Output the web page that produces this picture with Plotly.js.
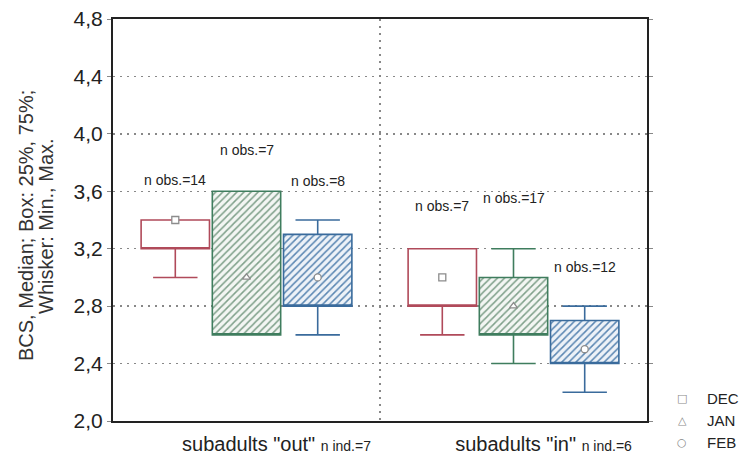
<!DOCTYPE html>
<html>
<head>
<meta charset="utf-8">
<script src="https://cdn.plot.ly/plotly-3.0.1.min.js"></script>
<style>
  html, body { margin: 0; padding: 0; background: #fff; }
  #chart { width: 744px; height: 463px; }
</style>
</head>
<body>
<div id="chart"></div>
<script>
// groups on the x axis
const groups = ['subadults "out"', 'subadults "in"'];
const nInd = [7, 6];
const months = ['DEC', 'JAN', 'FEB'];

// box stats per month, one value per group
const minVals = { DEC: [3.0, 2.6], JAN: [2.6, 2.4], FEB: [2.6, 2.2] };
const q1Vals = { DEC: [3.2, 2.8], JAN: [2.6, 2.6], FEB: [2.8, 2.4] };
const medVals = { DEC: [3.4, 3.0], JAN: [3.0, 2.8], FEB: [3.0, 2.5] };
const q3Vals = { DEC: [3.4, 3.2], JAN: [3.6, 3.0], FEB: [3.3, 2.7] };
const maxVals = { DEC: [3.4, 3.2], JAN: [3.6, 3.2], FEB: [3.4, 2.8] };

// n obs per month, one value per group
const nObs = { DEC: [14, 7], JAN: [7, 17], FEB: [8, 12] };
// height of the "n obs" labels (y units)
const nObsLabelY = { DEC: [3.68, 3.50], JAN: [3.89, 3.55], FEB: [3.67, 3.07] };

const yTitleLines = ['BCS, Median; Box: 25%, 75%;', 'Whisker: Min., Max.'];

// styles
const lineColors = { DEC: '#b04a5a', JAN: '#3f7d5e', FEB: '#3a6b9c' };
const hatch = {
    DEC: null,
    JAN: { fg: '#7fa08a', bg: '#f3f6f3' },
    FEB: { fg: '#5a86b2', bg: '#edf2f8' }
};
const symbols = { DEC: 'square', JAN: 'triangle-up', FEB: 'circle' };
const legendGlyphs = { DEC: '\u25A1', JAN: '\u25B3', FEB: '\u25CB' };
const font = 'Liberation Sans, Arial, sans-serif';

const boxGap = 0.2;
const boxGroupGap = 0.04;

const traces = [];

// hatched fills (bars from q1 to q3), drawn under the box outlines
months.forEach(function(m) {
    const h = hatch[m];
    traces.push({
        type: 'bar',
        x: groups,
        base: q1Vals[m],
        y: q3Vals[m].map((v, i) => v - q1Vals[m][i]),
        marker: h ? {
            color: h.bg,
            line: { width: 0 },
            pattern: { shape: '/', fgcolor: h.fg, bgcolor: h.bg, size: 5, solidity: 0.3 }
        } : { color: '#ffffff', line: { width: 0 } },
        showlegend: false,
        hoverinfo: 'skip'
    });
});

// box outlines + whiskers; median line hidden on the lower edge, median shown as marker
months.forEach(function(m) {
    traces.push({
        type: 'box',
        x: groups,
        q1: q1Vals[m],
        median: q1Vals[m],
        q3: q3Vals[m],
        lowerfence: minVals[m],
        upperfence: maxVals[m],
        fillcolor: 'rgba(0,0,0,0)',
        line: { color: lineColors[m], width: 1.6 },
        whiskerwidth: 0.65,
        boxpoints: false,
        showlegend: false,
        hoverinfo: 'skip'
    });
});

// median markers
months.forEach(function(m) {
    traces.push({
        type: 'scatter',
        mode: 'markers',
        x: groups,
        y: medVals[m],
        name: m,
        marker: {
            symbol: symbols[m],
            size: 7,
            color: '#ffffff',
            line: { color: '#8c8c8c', width: 1.3 }
        },
        showlegend: false,
        hoverinfo: 'skip'
    });
});

// "n obs" labels over each box
const slot = (1 - boxGap) / months.length;
const annotations = [];
months.forEach(function(m, ti) {
    groups.forEach(function(g, gi) {
        annotations.push({
            x: gi + (ti - 1) * slot,
            y: nObsLabelY[m][gi],
            xref: 'x', yref: 'y',
            text: 'n obs.=' + nObs[m][gi],
            showarrow: false,
            font: { family: font, size: 14, color: '#222' }
        });
    });
});

// y axis title, two tightly spaced rotated lines
yTitleLines.forEach(function(t, i) {
    annotations.push({
        x: 0, y: 0.5,
        xref: 'paper', yref: 'paper',
        xanchor: 'center', yanchor: 'middle',
        xshift: -87 + i * 20,
        yshift: -6,
        textangle: -90,
        text: t,
        showarrow: false,
        font: { family: font, size: 20, color: '#333' }
    });
});

// legend in the lower right corner, outside the frame
months.forEach(function(m, i) {
    annotations.push({
        x: 1, y: 0, xref: 'paper', yref: 'paper',
        xanchor: 'center', yanchor: 'middle',
        xshift: 35, yshift: 23 - i * 22,
        text: legendGlyphs[m],
        showarrow: false,
        font: { family: 'DejaVu Sans, sans-serif', size: 11, color: '#888' }
    });
    annotations.push({
        x: 1, y: 0, xref: 'paper', yref: 'paper',
        xanchor: 'left', yanchor: 'middle',
        xshift: 58, yshift: 23 - i * 22,
        text: m,
        showarrow: false,
        font: { family: font, size: 15, color: '#222' }
    });
});

const layout = {
    width: 744,
    height: 463,
    margin: { l: 113, r: 97, t: 19, b: 42 },
    paper_bgcolor: '#ffffff',
    plot_bgcolor: '#ffffff',
    separators: ',.',
    font: { family: font, color: '#222' },
    boxmode: 'group',
    boxgap: boxGap,
    boxgroupgap: boxGroupGap,
    barmode: 'group',
    bargap: boxGap,
    bargroupgap: boxGroupGap,
    scattermode: 'group',
    scattergap: boxGap,
    showlegend: false,
    xaxis: {
        type: 'category',
        range: [-0.5, 1.5],
        automargin: false,
        tickmode: 'array',
        tickvals: groups,
        ticktext: groups.map((g, i) => g + ' <span style="font-size:14px">n ind.=' + nInd[i] + '</span>'),
        tickson: 'boundaries',
        ticks: '',
        tickfont: { family: font, size: 20, color: '#222' },
        ticklabelshift: 30,
        ticklabelstandoff: 4,
        showgrid: true,
        gridcolor: '#888',
        gridwidth: 1.5,
        griddash: '2px,5px',
        showline: true,
        mirror: true,
        linecolor: '#222',
        linewidth: 2,
        zeroline: false,
        fixedrange: true
    },
    yaxis: {
        range: [2.0, 4.8],
        automargin: false,
        tick0: 2.0,
        dtick: 0.4,
        tickformat: '.1f',
        ticks: 'outside',
        ticklen: 4,
        tickcolor: '#888',
        tickfont: { family: font, size: 21, color: '#222' },
        showgrid: true,
        gridcolor: '#888',
        gridwidth: 1.5,
        griddash: '2px,5px',
        showline: true,
        mirror: 'ticks',
        linecolor: '#222',
        linewidth: 2,
        zeroline: false,
        fixedrange: true
    },
    annotations: annotations
};

Plotly.newPlot('chart', traces, layout, { staticPlot: true });
</script>
</body>
</html>
